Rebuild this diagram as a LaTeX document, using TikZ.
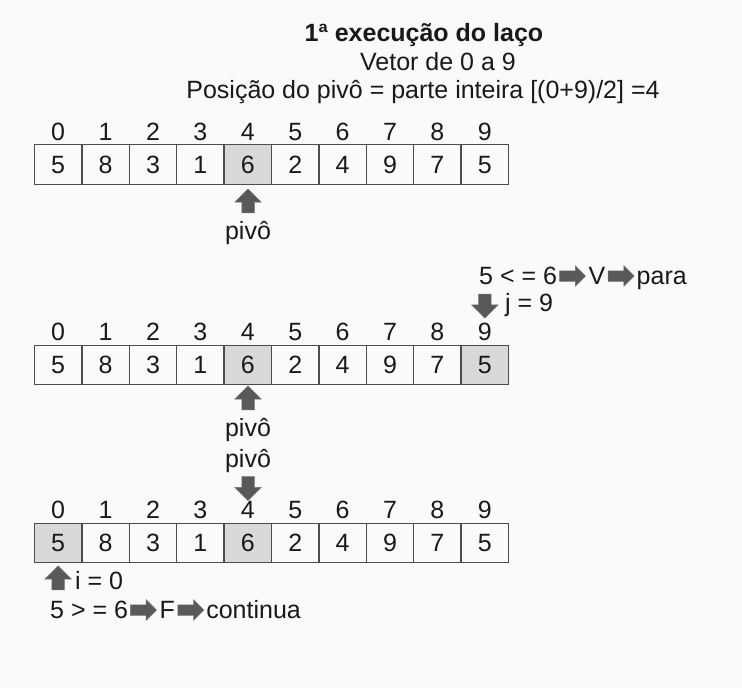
\documentclass[tikz,border=0pt]{standalone}
\usepackage{fontspec}
\setmainfont{Liberation Sans}
\usetikzlibrary{shapes.arrows,positioning}

\begin{document}
\begin{tikzpicture}[x=1pt,y=-1pt,
		every node/.style={font=\fontsize{25}{28}\selectfont, text=black!90,
			text height=17.9pt, text depth=0pt},
		cell/.style={draw=black!70, line width=1.4pt, minimum width=47.4pt,
			minimum height=39.5pt, inner sep=0pt},
		marked/.style={cell, fill=black!15},
		blkarrow/.style={single arrow, draw=black!55, fill=black!65, line width=.5pt,
			text height=0pt, text depth=0pt,
			inner sep=6pt, single arrow head extend=7pt, minimum height=24pt,
			minimum width=26pt},
		txtarrow/.style={blkarrow, inner sep=5pt, single arrow head extend=5pt,
			minimum height=26pt, minimum width=20pt},
		txt/.style={inner sep=1pt}]
	\useasboundingbox[fill=black!2] (0,0) rectangle (742,688);

	% titulo
	\node[font=\fontsize{25}{28}\selectfont\bfseries] (titulo) at (424,33) {1ª execução do laço};
	\node (vetor) at (438,62) {Vetor de 0 a 9};
	\node (posicao) at (423,90) {Posição do pivô = parte inteira [(0+9)/2] =4};

	% vetor 1
	\foreach \v/\s [count=\k from 0] in {5/cell,8/cell,3/cell,1/cell,6/marked,2/cell,4/cell,9/cell,7/cell,5/cell}
	{
		\node[\s] (a\k) at ({34.5+47.4*(\k+.5)},164.5) {\v};
		\node (ia\k) at ({34.5+47.4*(\k+.5)},132) {\k};
	}
	\node[blkarrow, shape border rotate=90] (pa) at (248,204) {};
	\node (pivoa) at (248,231) {pivô};

	% vetor 2
	\node[txt, anchor=west] (c1) at (478,276) {5 < = 6};
	\node[txtarrow, right=1pt of c1] (c1x) {};
	\node[txt, right=1.5pt of c1x] (c1v) {V};
	\node[txtarrow, right=1.5pt of c1v] (c1y) {};
	\node[txt, right=1pt of c1y] (c1p) {para};
	\node[blkarrow, shape border rotate=270] (ja) at (484.8,303) {};
	\node[txt, anchor=west] (jt) at (504,303) {j = 9};
	\foreach \v/\s [count=\k from 0] in {5/cell,8/cell,3/cell,1/cell,6/marked,2/cell,4/cell,9/cell,7/cell,5/marked}
	{
		\node[\s] (b\k) at ({34.5+47.4*(\k+.5)},365) {\v};
		\node (ib\k) at ({34.5+47.4*(\k+.5)},332) {\k};
	}
	\node[blkarrow, shape border rotate=90] (pb) at (248,401) {};
	\node (pivob) at (248,428) {pivô};

	% vetor 3
	\node (pivoc) at (248,459) {pivô};
	\node[blkarrow, shape border rotate=270] (pc) at (248,485.5) {};
	\foreach \v/\s [count=\k from 0] in {5/marked,8/cell,3/cell,1/cell,6/marked,2/cell,4/cell,9/cell,7/cell,5/cell}
	{
		\node[\s] (c\k) at ({34.5+47.4*(\k+.5)},543) {\v};
		\node (ic\k) at ({34.5+47.4*(\k+.5)},510) {\k};
	}
	\node[blkarrow, shape border rotate=90] (ia) at (58.2,581) {};
	\node[txt, anchor=west] (it) at (74,581) {i = 0};
	\node[txt, anchor=west] (c2) at (49,610) {5 > = 6};
	\node[txtarrow, right=1pt of c2] (c2x) {};
	\node[txt, right=1.5pt of c2x] (c2f) {F};
	\node[txtarrow, right=1.5pt of c2f] (c2y) {};
	\node[txt, right=1pt of c2y] (c2c) {continua};
\end{tikzpicture}
\end{document}
